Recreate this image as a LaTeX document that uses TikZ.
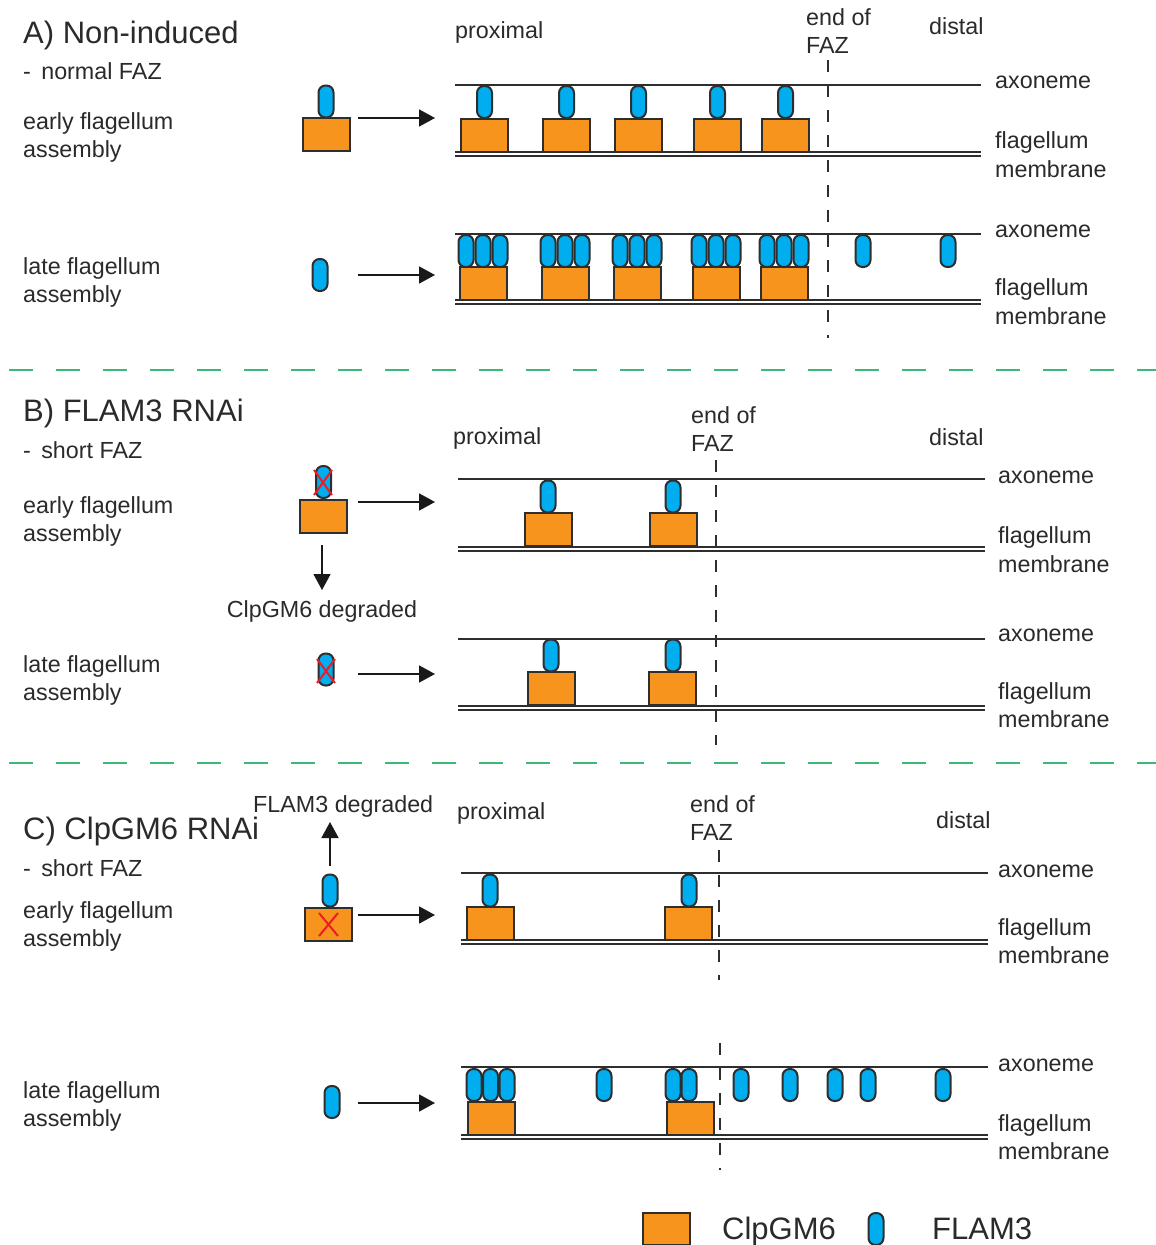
\documentclass[tikz,border=0pt]{standalone}
\usepackage{fontspec}
\setmainfont{Liberation Sans}
\usetikzlibrary{arrows.meta}
\definecolor{cpo}{HTML}{F7941D}
\definecolor{flb}{HTML}{00AEEF}
\definecolor{edg}{HTML}{2E2E2E}
\definecolor{txt}{HTML}{2A2A2A}
\definecolor{grn}{HTML}{3CB878}
\definecolor{xred}{HTML}{ED1C24}
\begin{document}
\begin{tikzpicture}[x=1pt,y=-1pt,
 cbox/.style={draw=edg,line width=2pt,fill=cpo,minimum width=47pt,minimum height=33pt,inner sep=0pt,outer sep=0pt},
 pill/.style={draw=edg,line width=2pt,fill=flb,minimum width=15pt,minimum height=32pt,inner sep=0pt,outer sep=0pt,rounded corners=7pt},
 lbl/.style={anchor=base west,inner sep=0pt,text=txt,font=\fontsize{23.3}{28}\selectfont},
 ttl/.style={anchor=base west,inner sep=0pt,text=txt,font=\fontsize{31}{36}\selectfont},
 axo/.style={draw=edg,line width=2pt},
 faz/.style={draw=edg,line width=2.2pt,dash pattern=on 12pt off 13pt},
 sepline/.style={draw=grn,line width=2.5pt,dash pattern=on 24pt off 23pt},
 arr/.style={draw=black!90,line width=1.7pt,-{Triangle[length=16pt,width=17pt]}},
 xmark/.style={draw=xred,line width=2pt}]
\useasboundingbox (0,0) rectangle (1156,1245);

% separators
\draw[sepline] (9,370) -- (1156,370);
\draw[sepline] (9,763) -- (1156,763);

% ================= Panel A =================
\node[ttl] (Atitle) at (23,43) {A) Non-induced};
\node[lbl] (Asub) at (23,79) {-\, normal FAZ};
\node[lbl] (Aeb1) at (23,129) {early flagellum};
\node[lbl] (Aeb2) at (23,157) {assembly};
\node[lbl] (Aprox) at (455,38) {proximal};
\node[lbl] (Aend1) at (806,25) {end of};
\node[lbl] (Aend2) at (806,53) {FAZ};
\node[lbl] (Adist) at (929,34) {distal};
\node[lbl] (Aax1) at (995,88) {axoneme};
\node[lbl] (Afm1) at (995,148) {flagellum};
\node[lbl] (Afm2) at (995,177) {membrane};
\node[lbl] (Alb1) at (23,274) {late flagellum};
\node[lbl] (Alb2) at (23,302) {assembly};
\node[lbl] (Aax2) at (995,237) {axoneme};
\node[lbl] (Afm3) at (995,295) {flagellum};
\node[lbl] (Afm4) at (995,324) {membrane};

\draw[axo] (455,85) -- (981,85);
\draw[axo] (455,152) -- (981,152);
\draw[axo] (455,156) -- (981,156);
\draw[axo] (455,234) -- (981,234);
\draw[axo] (455,300) -- (981,300);
\draw[axo] (455,304) -- (981,304);
\draw[faz] (828,60) -- (828,338);

% early A
\node[cbox] (AeLbox) at (326.5,134.5) {};
\node[pill] (AeLpill) at (326,101.5) {};
\foreach \c [count=\i] in {484.5,566.5,638.5,717.5,785.5}{
  \node[cbox] (AeB\i) at (\c,135.5) {};
  \node[pill] (AeP\i) at (\c,102) {};
}
\coordinate (AeS) at (358,118);
\coordinate (AeE) at (435,118);
\draw[arr] (AeS) -- (AeE);

% late A
\node[pill] (AlLpill) at (320,275) {};
\foreach \c [count=\i] in {483,565,637,716,784}{
  \node[cbox] (AlB\i) at (\c,283.5) {};
  \node[pill] (AlP\i-a) at (\c-17,251) {};
  \node[pill] (AlP\i-b) at (\c,251) {};
  \node[pill] (AlP\i-c) at (\c+17,251) {};
}
\node[pill] (AlF1) at (863,251) {};
\node[pill] (AlF2) at (948,251) {};
\coordinate (AlS) at (358,275);
\coordinate (AlE) at (435,275);
\draw[arr] (AlS) -- (AlE);

% ================= Panel B =================
\node[ttl] (Btitle) at (23,421) {B) FLAM3 RNAi};
\node[lbl] (Bsub) at (23,458) {-\, short FAZ};
\node[lbl] (Beb1) at (23,513) {early flagellum};
\node[lbl] (Beb2) at (23,541) {assembly};
\node[lbl] (Bprox) at (453,444) {proximal};
\node[lbl] (Bend1) at (691,423) {end of};
\node[lbl] (Bend2) at (691,451) {FAZ};
\node[lbl] (Bdist) at (929,445) {distal};
\node[lbl] (Bax1) at (998,483) {axoneme};
\node[lbl] (Bfm1) at (998,543) {flagellum};
\node[lbl] (Bfm2) at (998,572) {membrane};
\node[lbl] (Blb1) at (23,672) {late flagellum};
\node[lbl] (Blb2) at (23,700) {assembly};
\node[lbl] (Bax2) at (998,641) {axoneme};
\node[lbl] (Bfm3) at (998,699) {flagellum};
\node[lbl] (Bfm4) at (998,727) {membrane};
\node[lbl,anchor=base] (Bdeg) at (322,617) {ClpGM6 degraded};

\draw[axo] (458,479) -- (985,479);
\draw[axo] (458,547) -- (985,547);
\draw[axo] (458,551) -- (985,551);
\draw[axo] (458,639) -- (985,639);
\draw[axo] (458,706) -- (985,706);
\draw[axo] (458,710) -- (985,710);
\draw[faz] (716,460) -- (716,745);

% early B
\node[cbox] (BeLbox) at (323.5,516.5) {};
\node[pill] (BeLpill) at (323.5,482) {};
\draw[xmark] (314,470) -- (332,495) (332,470) -- (314,495);
\node[cbox] (BeB1) at (548.5,529.5) {};
\node[pill] (BeP1) at (548,496.5) {};
\node[cbox] (BeB2) at (673.5,529.5) {};
\node[pill] (BeP2) at (673,496.5) {};
\coordinate (BeS) at (358,502);
\coordinate (BeE) at (435,502);
\draw[arr] (BeS) -- (BeE);
\coordinate (BdS) at (322,545);
\coordinate (BdE) at (322,590);
\draw[arr] (BdS) -- (BdE);

% late B
\node[pill] (BlLpill) at (326,669.5) {};
\draw[xmark] (317,659) -- (335,683) (335,659) -- (317,683);
\node[cbox] (BlB1) at (551.5,688.5) {};
\node[pill] (BlP1) at (551,655.5) {};
\node[cbox] (BlB2) at (672.5,688.5) {};
\node[pill] (BlP2) at (673,655.5) {};
\coordinate (BlS) at (358,674);
\coordinate (BlE) at (435,674);
\draw[arr] (BlS) -- (BlE);

% ================= Panel C =================
\node[ttl] (Ctitle) at (23,839) {C) ClpGM6 RNAi};
\node[lbl] (Cdeg) at (253,812) {FLAM3 degraded};
\node[lbl] (Csub) at (23,876) {-\, short FAZ};
\node[lbl] (Ceb1) at (23,918) {early flagellum};
\node[lbl] (Ceb2) at (23,946) {assembly};
\node[lbl] (Cprox) at (457,819) {proximal};
\node[lbl] (Cend1) at (690,812) {end of};
\node[lbl] (Cend2) at (690,840) {FAZ};
\node[lbl] (Cdist) at (936,828) {distal};
\node[lbl] (Cax1) at (998,877) {axoneme};
\node[lbl] (Cfm1) at (998,935) {flagellum};
\node[lbl] (Cfm2) at (998,963) {membrane};
\node[lbl] (Clb1) at (23,1098) {late flagellum};
\node[lbl] (Clb2) at (23,1126) {assembly};
\node[lbl] (Cax2) at (998,1071) {axoneme};
\node[lbl] (Cfm3) at (998,1131) {flagellum};
\node[lbl] (Cfm4) at (998,1159) {membrane};

\draw[axo] (461,873) -- (988,873);
\draw[axo] (461,940) -- (988,940);
\draw[axo] (461,944) -- (988,944);
\draw[axo] (461,1067) -- (988,1067);
\draw[axo] (461,1135) -- (988,1135);
\draw[axo] (461,1139) -- (988,1139);
\draw[faz] (719,850) -- (719,980);
\draw[faz] (720,1043) -- (720,1170);

% early C
\node[cbox] (CeLbox) at (328.5,924.5) {};
\draw[xmark] (319,913) -- (338,936) (338,913) -- (319,936);
\node[pill] (CeLpill) at (330,890.5) {};
\coordinate (CuS) at (330,866);
\coordinate (CuE) at (330,822);
\draw[arr] (CuS) -- (CuE);
\node[cbox] (CeB1) at (490.5,923.5) {};
\node[pill] (CeP1) at (490,890.5) {};
\node[cbox] (CeB2) at (688.5,923.5) {};
\node[pill] (CeP2) at (689,890.5) {};
\coordinate (CeS) at (358,915);
\coordinate (CeE) at (435,915);
\draw[arr] (CeS) -- (CeE);

% late C
\node[pill] (ClLpill) at (332,1102) {};
\node[cbox] (ClB1) at (491,1118.5) {};
\node[cbox] (ClB2) at (690,1118.5) {};
\foreach \c [count=\i] in {474,490.5,507,604,673,689,741,790,835,868,943}{
  \node[pill] (ClP\i) at (\c,1085) {};
}
\coordinate (ClS) at (358,1103);
\coordinate (ClE) at (435,1103);
\draw[arr] (ClS) -- (ClE);

% legend
\node[cbox,minimum height=32pt] (Lbox) at (666,1229) {};
\node[ttl] (Lt1) at (722,1239) {ClpGM6};
\node[pill] (Lpill) at (876,1229) {};
\node[ttl] (Lt2) at (932,1239) {FLAM3};
\end{tikzpicture}
\end{document}
